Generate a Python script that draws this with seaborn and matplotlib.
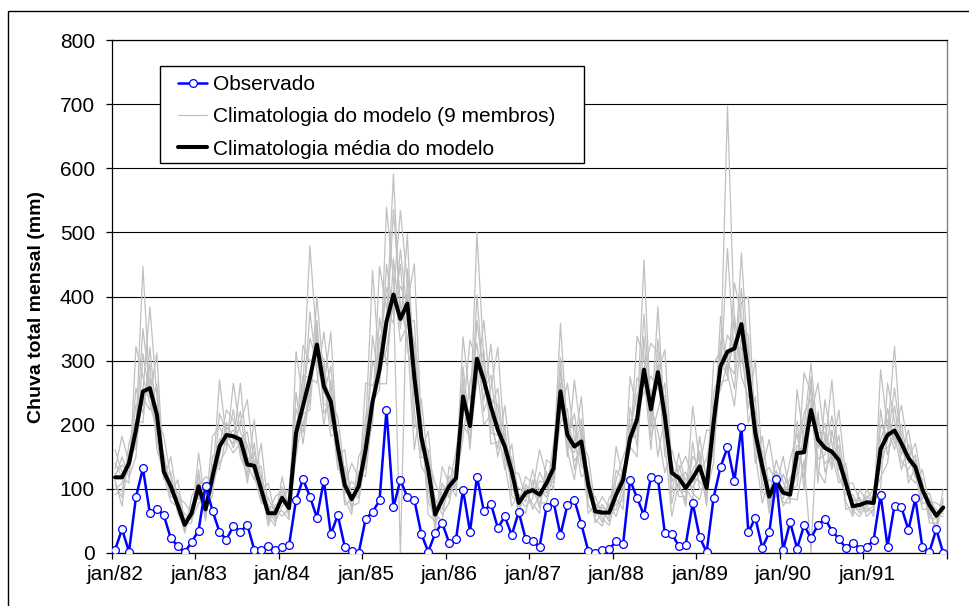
import numpy as np
import pandas as pd
import matplotlib
matplotlib.use("Agg")
import matplotlib.pyplot as plt
import seaborn as sns
from matplotlib.lines import Line2D
from matplotlib.patches import Rectangle

# ---------------- data (monthly, jan/82 .. dez/91) ----------------
rotulos_anos = ["jan/82", "jan/83", "jan/84", "jan/85", "jan/86",
                "jan/87", "jan/88", "jan/89", "jan/90", "jan/91"]

observado = [5, 37, 2, 87, 132, 62, 69, 59, 23, 11, 1, 17, 35, 105, 66, 33, 21, 42, 33, 44,
             5, 4, 11, 4, 10, 12, 83, 115, 88, 55, 113, 29, 59, 10, 3, 0, 53, 64, 82, 223,
             71, 114, 87, 83, 30, 2, 31, 47, 16, 22, 99, 33, 119, 65, 77, 39, 57, 28, 64, 22,
             18, 10, 71, 80, 28, 75, 83, 45, 3, 0, 5, 6, 18, 14, 114, 86, 59, 119, 116, 31,
             30, 11, 13, 78, 25, 1, 86, 134, 165, 113, 196, 32, 55, 8, 32, 115, 5, 48, 7, 43,
             23, 44, 53, 35, 22, 8, 16, 7, 9, 20, 91, 10, 74, 71, 36, 85, 9, 1, 37, 0]

media = [118, 118, 140, 192, 252, 257, 216, 127, 104, 75, 44, 62, 104, 68, 119, 166, 184, 182, 177, 138,
         136, 99, 62, 62, 86, 70, 187, 229, 273, 325, 260, 236, 166, 106, 84, 104, 161, 236, 286, 361,
         403, 365, 389, 275, 181, 130, 60, 83, 104, 117, 244, 198, 303, 269, 228, 192, 166, 127, 78, 94,
         98, 91, 109, 132, 252, 184, 166, 174, 106, 65, 63, 63, 91, 114, 179, 208, 286, 224, 282, 213,
         125, 117, 101, 117, 135, 101, 203, 291, 314, 319, 357, 278, 187, 135, 88, 112, 94, 91, 156, 157,
         223, 177, 164, 158, 145, 109, 73, 75, 79, 78, 162, 184, 191, 171, 148, 134, 99, 75, 58, 71]

membro1 = [161, 126, 134, 257, 218, 295, 161, 127, 93, 114, 48, 59, 130, 55, 138, 130, 184, 170, 265, 150,
           132, 135, 48, 70, 57, 70, 170, 324, 298, 313, 303, 198, 180, 75, 84, 92, 265, 261, 280, 450,
           372, 450, 316, 275, 160, 190, 66, 76, 120, 97, 272, 161, 303, 238, 326, 207, 159, 149, 63, 102,
           68, 91, 95, 170, 265, 177, 218, 136, 119, 47, 63, 54, 166, 118, 175, 273, 260, 255, 150, 213,
           94, 156, 107, 110, 159, 81, 231, 255, 295, 279, 468, 293, 178, 159, 70, 122, 73, 91, 123, 281,
           250, 163, 202, 138, 168, 68, 73, 67, 99, 80, 149, 225, 170, 189, 109, 134, 85, 94, 60, 68]
membro2 = [118, 150, 118, 150, 311, 242, 312, 124, 110, 75, 61, 52, 78, 83, 106, 270, 179, 192, 177, 189,
           121, 78, 76, 53, 119, 66, 202, 229, 376, 283, 200, 269, 150, 161, 79, 110, 161, 339, 264, 264,
           459, 350, 497, 252, 188, 130, 85, 60, 78, 130, 216, 332, 296, 280, 228, 257, 141, 73, 92, 80,
           130, 85, 113, 132, 305, 160, 114, 195, 86, 88, 59, 66, 91, 132, 166, 150, 337, 196, 384, 195,
           129, 117, 126, 93, 83, 128, 175, 369, 285, 331, 357, 339, 154, 78, 115, 101, 151, 88, 168, 157,
           275, 129, 109, 192, 129, 140, 70, 78, 79, 88, 118, 140, 230, 153, 192, 129, 103, 75, 68, 61]
membro3 = [91, 98, 149, 192, 447, 250, 228, 118, 127, 62, 38, 70, 104, 119, 113, 178, 168, 224, 150, 125,
           158, 99, 109, 58, 90, 57, 251, 170, 251, 348, 260, 345, 159, 113, 67, 127, 119, 221, 334, 361,
           591, 365, 402, 195, 211, 60, 49, 99, 104, 160, 231, 214, 279, 316, 170, 173, 185, 127, 124, 88,
           102, 71, 127, 99, 230, 208, 166, 244, 97, 68, 48, 77, 57, 93, 208, 208, 457, 211, 294, 151,
           143, 88, 88, 151, 135, 192, 190, 300, 275, 370, 275, 244, 221, 135, 177, 107, 101, 82, 206, 99,
           225, 203, 164, 270, 138, 113, 62, 87, 57, 69, 199, 184, 322, 163, 153, 117, 115, 47, 46, 79]
membro4 = [131, 182, 140, 173, 242, 223, 264, 134, 87, 87, 78, 62, 92, 64, 90, 218, 189, 164, 203, 239,
           136, 90, 58, 42, 103, 73, 161, 258, 479, 325, 233, 225, 130, 134, 91, 86, 192, 441, 286, 317,
           394, 0, 443, 296, 149, 148, 109, 83, 92, 111, 181, 265, 327, 221, 257, 321, 166, 103, 74, 62,
           114, 99, 87, 143, 358, 184, 143, 163, 62, 77, 66, 49, 114, 150, 179, 182, 279, 161, 333, 225,
           77, 129, 151, 117, 112, 95, 140, 330, 305, 256, 390, 400, 187, 109, 83, 88, 123, 97, 105, 194,
           296, 177, 139, 152, 109, 125, 77, 62, 85, 99, 162, 164, 185, 130, 170, 138, 77, 81, 78, 71]
membro5 = [106, 87, 171, 208, 203, 321, 205, 144, 104, 69, 35, 88, 110, 50, 151, 159, 196, 182, 165, 118,
           208, 108, 42, 75, 80, 79, 187, 202, 238, 400, 270, 182, 190, 100, 101, 104, 142, 213, 447, 382,
           358, 473, 374, 328, 181, 99, 43, 135, 108, 88, 291, 191, 362, 269, 202, 163, 230, 132, 57, 107,
           92, 112, 109, 117, 218, 265, 178, 119, 128, 61, 71, 63, 76, 82, 275, 224, 249, 276, 256, 244,
           125, 104, 81, 229, 141, 73, 250, 284, 340, 319, 320, 225, 301, 141, 62, 129, 90, 107, 156, 131,
           215, 265, 173, 130, 184, 101, 84, 75, 69, 63, 286, 194, 161, 201, 140, 145, 99, 62, 39, 99]
membro6 = [140, 118, 109, 322, 275, 233, 191, 155, 99, 95, 44, 47, 156, 74, 99, 150, 204, 177, 221, 138,
           114, 171, 68, 48, 73, 85, 180, 277, 273, 265, 345, 249, 141, 92, 112, 99, 213, 236, 255, 539,
           426, 330, 356, 363, 172, 160, 60, 50, 135, 122, 200, 181, 402, 255, 277, 192, 130, 170, 84, 72,
           85, 126, 103, 151, 252, 150, 270, 182, 75, 57, 76, 58, 129, 114, 161, 338, 307, 180, 223, 265,
           111, 137, 101, 83, 182, 112, 159, 275, 475, 301, 413, 278, 140, 182, 99, 95, 85, 118, 141, 219,
           240, 109, 239, 171, 120, 91, 91, 71, 89, 78, 99, 265, 207, 142, 130, 153, 93, 85, 58, 57]
membro7 = [113, 73, 156, 163, 252, 384, 245, 121, 80, 72, 31, 75, 86, 68, 182, 197, 174, 156, 172, 109,
           172, 84, 62, 88, 96, 62, 150, 217, 223, 363, 218, 236, 213, 123, 73, 78, 153, 203, 367, 293,
           403, 534, 421, 224, 135, 116, 35, 109, 86, 117, 337, 238, 288, 200, 216, 150, 198, 89, 78, 119,
           108, 78, 78, 125, 203, 225, 130, 174, 150, 72, 54, 43, 84, 68, 227, 167, 286, 327, 313, 173,
           57, 111, 73, 173, 99, 101, 296, 314, 280, 229, 341, 203, 244, 95, 88, 145, 111, 85, 83, 145,
           0, 221, 126, 158, 223, 118, 66, 57, 75, 57, 224, 153, 191, 230, 161, 123, 68, 69, 31, 85]
membro8 = [123, 137, 126, 184, 350, 257, 178, 114, 150, 80, 54, 55, 99, 94, 119, 141, 161, 265, 188, 168,
           126, 95, 86, 62, 66, 52, 314, 240, 335, 298, 248, 291, 166, 84, 60, 150, 173, 298, 272, 342,
           535, 385, 338, 161, 240, 137, 75, 68, 99, 139, 244, 172, 269, 363, 240, 231, 150, 116, 101, 94,
           77, 62, 145, 137, 284, 169, 156, 209, 106, 52, 42, 86, 100, 125, 171, 196, 372, 224, 190, 125,
           161, 122, 116, 102, 125, 147, 203, 266, 270, 421, 370, 315, 166, 124, 133, 112, 79, 78, 255, 172,
           260, 146, 153, 214, 145, 80, 57, 99, 81, 84, 134, 175, 257, 171, 121, 109, 130, 77, 64, 65]
membro9 = [99, 109, 144, 231, 230, 272, 216, 182, 118, 66, 41, 65, 120, 60, 127, 166, 223, 207, 158, 132,
           145, 121, 53, 65, 86, 99, 225, 188, 263, 334, 286, 212, 172, 106, 140, 118, 132, 229, 305, 414,
           383, 416, 389, 451, 199, 81, 55, 89, 113, 104, 255, 198, 500, 297, 187, 184, 174, 140, 69, 97,
           98, 161, 120, 109, 242, 194, 197, 149, 111, 65, 88, 70, 67, 105, 191, 247, 269, 236, 282, 317,
           136, 97, 95, 130, 149, 88, 214, 291, 697, 350, 300, 263, 201, 149, 76, 116, 94, 145, 186, 116,
           232, 188, 187, 145, 154, 109, 109, 82, 64, 74, 177, 208, 178, 178, 148, 171, 108, 55, 53, 74]

membros = [membro1, membro2, membro3, membro4, membro5, membro6, membro7, membro8, membro9]
for m in membros:
    assert len(m) == len(observado) == len(media) == 120, len(m)

meses = np.arange(len(observado))

df_membros = pd.DataFrame({
    "mes": np.tile(meses, len(membros)),
    "valor": np.concatenate([np.asarray(m, float) for m in membros]),
    "membro": np.repeat(np.arange(len(membros)), len(meses)),
})

# ---------------- style ----------------
sns.set_style("white")
plt.rcParams["font.family"] = ["Liberation Sans", "DejaVu Sans"]
plt.rcParams["text.color"] = "black"
plt.rcParams["axes.labelcolor"] = "black"
plt.rcParams["xtick.color"] = "black"
plt.rcParams["ytick.color"] = "black"

W, H = 969, 606
fig = plt.figure(figsize=(W / 100, H / 100), dpi=100)
ax_l, ax_r, ax_t, ax_b = 111.6, 946.7, 40.0, 553.0
ax = fig.add_axes([ax_l / W, 1 - ax_b / H, (ax_r - ax_l) / W, (ax_b - ax_t) / H])

sns.lineplot(data=df_membros, x="mes", y="valor", units="membro", estimator=None,
             color="#C0C0C0", linewidth=0.9, legend=False, ax=ax, zorder=2)
sns.lineplot(x=meses, y=media, color="black", linewidth=2.9, ax=ax, zorder=3)
sns.lineplot(x=meses, y=observado, color="#0000FF", linewidth=1.8, marker="o",
             markersize=5.6, markerfacecolor="white", markeredgecolor="#0000FF",
             markeredgewidth=0.9, ax=ax, zorder=4)

ax.set_xlim(-0.5, len(meses) - 0.5)
ax.set_ylim(0, 800)
ax.set_yticks(np.arange(0, 801, 100))
ax.yaxis.grid(True, color="black", linewidth=0.8, zorder=0)
ax.xaxis.grid(False)
ax.set_axisbelow(True)

ax.set_xticks(np.arange(0, len(meses), 12))
ax.set_xticklabels(rotulos_anos)
ax.set_xticks(np.arange(-0.5, len(meses), 12), minor=True)
ax.tick_params(axis="x", which="major", length=0, pad=9, labelsize=15, labelcolor="black")
ax.tick_params(axis="x", which="minor", length=4.5, width=0.9, direction="out",
               color="black", bottom=True)
ax.tick_params(axis="y", which="major", length=4.5, width=0.9, direction="out",
               color="black", left=True, pad=7.5, labelsize=15, labelcolor="black")

ax.set_xlabel("")
ax.set_ylabel("Chuva total mensal (mm)", fontsize=14, fontweight="bold", va="center",
              color="black")
ax.yaxis.set_label_coords(-(ax_l - 37) / (ax_r - ax_l), (ax_b - 307) / (ax_b - ax_t))

for s in ["left", "bottom", "top"]:
    ax.spines[s].set_color("black")
    ax.spines[s].set_linewidth(0.9)
ax.spines["right"].set_color("#808080")
ax.spines["right"].set_linewidth(1.0)

# legend box
box = Rectangle((160 / W, 1 - 163 / H), (584 - 160) / W, (163 - 65.6) / H,
                transform=fig.transFigure, facecolor="white", edgecolor="black",
                linewidth=1.0, zorder=6, clip_on=False)
ax.add_patch(box)

handles = [
    Line2D([], [], color="#0000FF", linewidth=1.8, marker="o", markersize=5.6,
           markerfacecolor="white", markeredgecolor="#0000FF", markeredgewidth=0.9),
    Line2D([], [], color="#C0C0C0", linewidth=0.9),
    Line2D([], [], color="black", linewidth=2.9),
]
labels = ["Observado", "Climatologia do modelo (9 membros)", "Climatologia média do modelo"]
leg = ax.legend(handles, labels, loc="upper left", bbox_to_anchor=(178 / W, 1 - 75 / H),
                bbox_transform=fig.transFigure, frameon=False, fontsize=15,
                handlelength=1.4, handletextpad=0.3, labelspacing=0.64,
                borderpad=0, borderaxespad=0, numpoints=1)
for t in leg.get_texts():
    t.set_color("black")
leg.set_zorder(7)

# outer chart frame (only left and top edges fall inside the picture)
frame = Rectangle((7.5 / W, -0.2), 2.0, (H - 11) / H + 0.2, transform=fig.transFigure,
                  fill=False, edgecolor="black", linewidth=1.0, clip_on=False)
fig.patches.append(frame)

fig.savefig("out.png", dpi=100)
